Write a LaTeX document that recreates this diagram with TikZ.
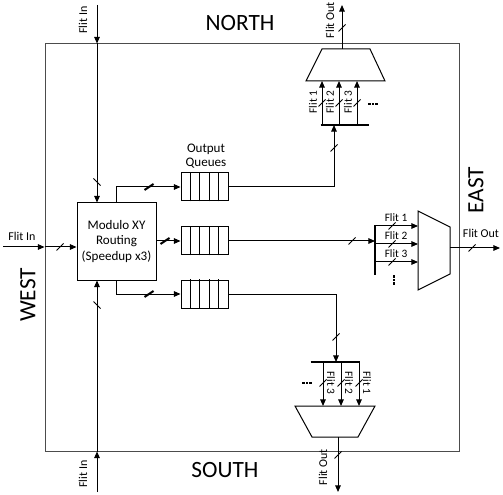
\documentclass[tikz,border=0pt]{standalone}
\usepackage{fontspec}
\setmainfont{Carlito}
\usetikzlibrary{arrows.meta,calc}
\begin{document}
\begin{tikzpicture}[x=0.75pt,y=-0.75pt,line width=0.75pt,
  arr/.style={-{Triangle[length=5pt,width=4.2pt]}},
  lbl/.style={font=\fontsize{9}{10}\selectfont,inner sep=0.5pt},
  flbl/.style={font=\fontsize{8.5}{9}\selectfont,inner sep=0.3pt},
  side/.style={font=\fontsize{17.5}{19}\selectfont,inner sep=0pt},
  bus/.style={line width=1.6pt},
  qbox/.style={draw,minimum width={47*0.75pt},minimum height={28*0.75pt},inner sep=0pt},
  slashmk/.pic={\draw (-3.5,3.5) -- (3.5,-3.5);},
  bslash/.pic={\draw[line width=1.5pt] (-4.5,3) -- (4.5,-3);},
  rslash/.pic={\draw (-3.5,-3.5) -- (3.5,3.5);},
  hdots/.pic={\foreach \d in {-3.5,0,3.5} \fill (\d-1.2,-1.2) rectangle (\d+1.2,1.2);},
  vdots/.pic={\foreach \d in {-3.5,0,3.5} \fill (-1.2,\d-1.2) rectangle (1.2,\d+1.2);}]
\useasboundingbox (0,0) rectangle (503,495);

% outer tile
\node[draw=black!70,minimum width={414*0.75pt},minimum height={407*0.75pt},inner sep=0pt] (box) at (252,247.5) {};

% side labels
\node[side] (north) at (240,23) {NORTH};
\node[side] (south) at (225,470) {SOUTH};
\node[side,rotate=90] (east) at (476,190) {EAST};
\node[side,rotate=90] (west) at (28,295) {WEST};

% router
\node[draw,minimum width={79*0.75pt},minimum height={77*0.75pt},align=center,
  font=\fontsize{9.8}{11.6}\selectfont] (rt) at (116.5,241.5) {Modulo XY\\Routing\\(Speedup x3)};

% inputs
\coordinate (nin) at (97,5);
\coordinate (win) at (3,247);
\coordinate (sin) at (97,492);
\draw[arr] (nin) -- (nin|-box.north);
\draw[arr] (nin|-box.north) -- (nin|-rt.north);
\draw[arr] (win) -- (win-|box.west);
\draw[arr] (win-|box.west) -- (win-|rt.west);
\draw[arr] (sin) -- (sin|-box.south);
\draw[arr] (sin|-box.south) -- (sin|-rt.south);
\pic at (97,182) {rslash};
\pic at (60,247) {slashmk};
\pic at (97,305) {rslash};
\node[lbl,rotate=90] (nfi) at (83,20) {Flit In};
\node[lbl] (wfi) at (22,236) {Flit In};
\node[lbl,rotate=90] (sfi) at (83,474) {Flit In};

% queues
\foreach \n/\yy in {q1/187,q2/241,q3/294}{
  \node[qbox] (\n) at (204.5,\yy) {};
  \foreach \i in {1,...,4}
    \draw ($(\n.south west)!\i/5!(\n.south east)$) -- ($(\n.north west)!\i/5!(\n.north east)$);
}
\node[align=center,font=\fontsize{9.8}{10.5}\selectfont,inner sep=0pt] (oq) at (206,156) {Output\\Queues};

\draw[arr] (rt.north) |- (q1.west);
\draw[arr] (rt.east|-q2.west) -- (q2.west);
\draw[arr] (rt.south) |- (q3.west);
\pic at (149,187) {bslash};
\pic at (165,241) {bslash};
\pic at (149,294) {bslash};

% ---- north mux
\coordinate (nmo) at (342,49);
\coordinate (nbus) at (334,125);
\draw (306,81) -- (322,49) -- (370,49) -- (385,81) -- cycle;
\draw[bus] (320.5,125) -- (369,125);
\draw[arr] (q1.east) -| (nbus);
\pic at (334,148) {slashmk};
\foreach \xx/\t in {322/1,339/2,357/3}{
  \coordinate (ni\t) at (\xx,125);
  \draw[arr] (ni\t) -- (\xx,81);
  \pic at (\xx,103) {slashmk};
  \node[flbl,rotate=90] (nl\t) at (\xx-9,102) {Flit \t};
}
\pic at (373,104) {hdots};
\coordinate (nout) at (342,5);
\draw[arr] (nmo) -- (nout);
\pic at (342,28) {slashmk};
\node[lbl,rotate=90] (nfo) at (330,20) {Flit Out};

% ---- east mux
\draw (418,211) -- (450,227) -- (450,274) -- (418,290) -- cycle;
\coordinate (emo) at (450,248);
\coordinate (eout) at (500,248);
\draw[arr] (emo) -- (eout);
\pic at (472,248) {slashmk};
\node[lbl] (efo) at (481,233) {Flit Out};
\coordinate (ebus) at (375,241);
\draw[bus] (375,225.2) -- (375,275);
\draw[arr] (q2.east) -- (ebus);
\pic at (352,241) {slashmk};
\foreach \yy/\t in {226/1,244/2,262/3}{
  \coordinate (ei\t) at (375,\yy);
  \draw[arr] (ei\t) -- (418,\yy);
  \pic at (392,\yy) {slashmk};
  \node[flbl] (el\t) at (396,\yy-8) {Flit \t};
}
\pic at (394,280) {vdots};

% ---- south mux
\draw (295,406) -- (375,406) -- (358,437) -- (312,437) -- cycle;
\coordinate (sbus) at (336,362);
\draw[bus] (310.5,362) -- (359.8,362);
\draw[arr] (q3.east) -| (sbus);
\pic at (336,337) {slashmk};
\foreach \xx/\t in {323/3,341/2,359/1}{
  \coordinate (si\t) at (\xx,362);
  \draw[arr] (si\t) -- (\xx,406);
  \pic at (\xx,383) {slashmk};
  \node[flbl,rotate=-90] (sl\t) at (\xx+8,383) {Flit \t};
}
\pic at (307,383) {hdots};
\coordinate (smo) at (338,437);
\coordinate (sout) at (338,492);
\draw[arr] (smo) -- (sout);
\pic at (338,455) {slashmk};
\node[lbl,rotate=90] (sfo) at (323,467) {Flit Out};
\end{tikzpicture}
\end{document}
